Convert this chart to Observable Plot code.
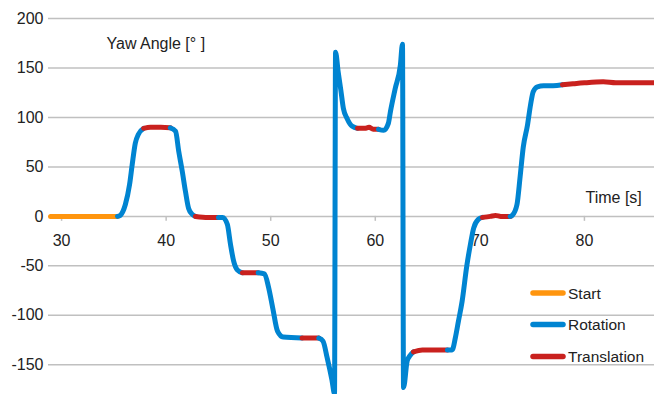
<!DOCTYPE html>
<html>
<head>
<meta charset="utf-8">
<script src="https://cdn.jsdelivr.net/npm/d3@7"></script>
<script src="https://cdn.jsdelivr.net/npm/@observablehq/plot@0.6"></script>
<style>
  html, body { margin: 0; padding: 0; background: #fff; }
  #wrap { position: relative; width: 654px; height: 394px; }
  #wrap svg { display: block; }
  #legend { position: absolute; left: 0; top: 0; pointer-events: none; }
</style>
</head>
<body>
<div id="wrap"></div>
<script>
// ---- data ----
const categories = ["Start", "Rotation", "Translation"];
const colors = ["#ff950e", "#0084d1", "#c9211e"];
const yTicks = [-150, -100, -50, 0, 50, 100, 150, 200];
const xTicks = [30, 40, 50, 60, 70, 80];

const segTypes = [
  "Start", "Rotation", "Translation", "Rotation", "Translation", "Rotation",
  "Translation", "Rotation", "Translation", "Rotation", "Translation",
  "Rotation", "Translation", "Rotation", "Translation", "Rotation", "Translation"
];
const segTimes = [
  [28.95, 35.35],
  [35.35, 35.6, 36.1, 36.5, 36.75, 37.05, 37.35, 37.85],
  [37.85, 38.5, 39.5, 40.4],
  [40.4, 40.9, 41.2, 41.55, 41.85, 42.15, 42.5, 42.8],
  [42.8, 44.0, 45.0],
  [45.0, 45.4, 45.85, 46.15, 46.45, 46.8, 47.3],
  [47.3, 48.8],
  [48.8, 49.4, 49.8, 50.2, 50.65, 51.2, 53.0],
  [53.0, 54.6],
  [54.6, 55.0, 55.4, 55.85, 56.1, 56.2, 56.45, 56.7, 56.95, 57.3, 57.8, 58.3],
  [58.3, 59.0, 59.4, 59.8, 60.3],
  [60.3, 60.8, 61.25, 61.45, 61.9, 62.4, 62.6, 62.7, 63.05, 63.3, 63.65],
  [63.65, 64.5, 65.5, 66.9],
  [66.9, 67.35, 67.65, 67.95, 68.3, 68.75, 69.1, 69.4, 69.85, 70.25],
  [70.25, 71.0, 71.5, 72.0, 72.9],
  [72.9, 73.1, 73.55, 73.85, 74.15, 74.55, 74.85, 75.1, 75.5, 76.1, 77.0, 77.9],
  [77.9, 78.9, 80.0, 81.8, 83.0, 86.7]
];
const segYaws = [
  [0, 0],
  [0, 1, 12, 32, 52, 74, 83, 89],
  [89, 90, 90, 89.5],
  [89.5, 86, 66, 45, 25, 8, 2, 0],
  [0, -1, -1],
  [-1, -1, -8, -28, -45, -54, -57],
  [-57, -57],
  [-57, -58, -72, -93, -116, -122, -123],
  [-123, -123],
  [-123, -126, -143, -165, -179, 166, 146, 128, 109, 99, 91, 89],
  [89, 89, 90, 88, 88],
  [88, 87, 94, 106, 129, 153, 174, -173, -146, -141, -137],
  [-137, -135, -135, -135],
  [-135, -135, -123, -106, -86, -50, -28, -12, -3, -1],
  [-1, 0, 1, 0, 0],
  [0, 1, 12, 40, 70, 92, 113, 126, 131, 132, 132, 133],
  [133, 134, 135, 136, 135, 135]
];
const yTitle = "Yaw Angle [° ]";
const xTitle = "Time [s]";

// ---- build table ----
const rows = [];
segTypes.forEach((type, i) => {
  segTimes[i].forEach((t, j) => rows.push({seg: i, type, t, v: segYaws[i][j]}));
});

const font = "'Liberation Sans', Arial, sans-serif";
const textColor = "#222";
const gridColor = "#c0c0c0";

const chart = Plot.plot({
  width: 654,
  height: 394,
  marginLeft: 48,
  marginRight: 0,
  marginTop: 18,
  marginBottom: 0,
  style: {fontFamily: font, fontSize: "16px", color: textColor, background: "#fff"},
  x: {domain: [28.75, 86.7], axis: null},
  y: {domain: [-180, 200], axis: null},
  color: {domain: categories, range: colors},
  marks: [
    Plot.ruleY(yTicks, {stroke: gridColor, strokeWidth: 1.5}),
    Plot.ruleX(xTicks, {x: d => d, y1: 0, y2: -5, stroke: gridColor, strokeWidth: 1.5}),
    Plot.text(yTicks, {frameAnchor: "left", y: d => d, dx: -5, text: d => String(d), textAnchor: "end", lineAnchor: "middle", fontSize: 16, fill: textColor}),
    Plot.text(xTicks, {x: d => d, y: 0, dy: 24, text: d => String(d), lineAnchor: "middle", fontSize: 16, fill: textColor}),
    Plot.line(rows, {
      x: "t", y: "v", z: "seg", stroke: "type", curve: "monotone-x",
      strokeWidth: 5, strokeLinecap: "round", strokeLinejoin: "round"
    }),
    Plot.text([yTitle], {frameAnchor: "top-left", dx: 58, dy: 25, text: d => d, textAnchor: "start", lineAnchor: "middle", fontSize: 16, fill: textColor}),
    Plot.text([xTitle], {frameAnchor: "top-left", dx: 537, dy: 179, text: d => d, textAnchor: "start", lineAnchor: "middle", fontSize: 16, fill: textColor})
  ]
});
document.getElementById("wrap").appendChild(chart);

// ---- legend overlay ----
const legendY = [293, 324.5, 356.5];
const ns = "http://www.w3.org/2000/svg";
const lg = document.createElementNS(ns, "svg");
lg.setAttribute("id", "legend");
lg.setAttribute("width", 654);
lg.setAttribute("height", 394);
categories.forEach((c, i) => {
  const ln = document.createElementNS(ns, "line");
  ln.setAttribute("x1", 533); ln.setAttribute("x2", 563);
  ln.setAttribute("y1", legendY[i]); ln.setAttribute("y2", legendY[i]);
  ln.setAttribute("stroke", colors[i]);
  ln.setAttribute("stroke-width", 5.5);
  ln.setAttribute("stroke-linecap", "round");
  lg.appendChild(ln);
  const tx = document.createElementNS(ns, "text");
  tx.setAttribute("x", 568);
  tx.setAttribute("y", legendY[i] + 5.5);
  tx.setAttribute("font-family", font);
  tx.setAttribute("font-size", "15.5px");
  tx.setAttribute("fill", textColor);
  tx.textContent = c;
  lg.appendChild(tx);
});
document.getElementById("wrap").appendChild(lg);
</script>
</body>
</html>
